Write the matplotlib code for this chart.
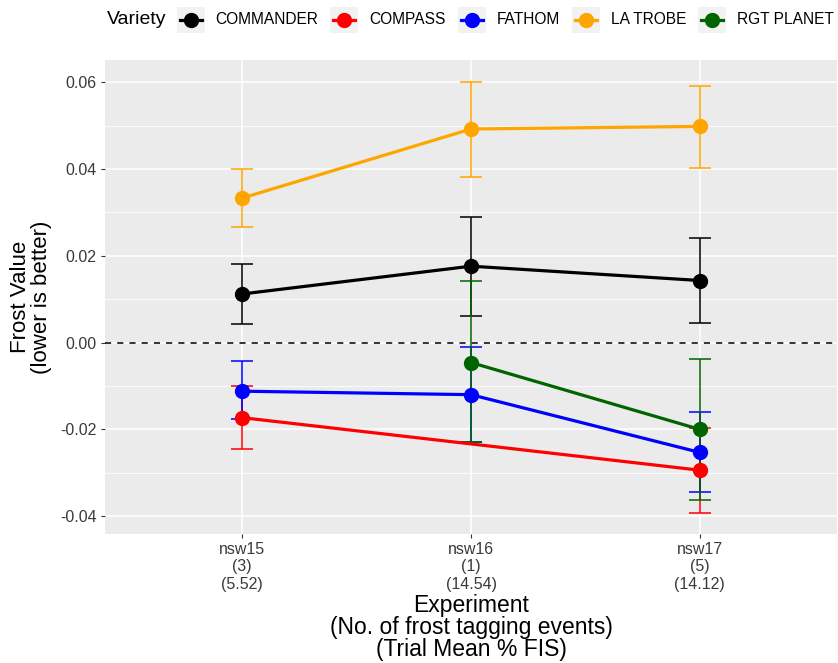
import numpy as np
import matplotlib
matplotlib.use("Agg")
import matplotlib.pyplot as plt
from matplotlib.lines import Line2D
from matplotlib.patches import Rectangle

plt.rcParams['font.family'] = ['Liberation Sans', 'DejaVu Sans']

# data
experiments = ['nsw15\n(3)\n(5.52)', 'nsw16\n(1)\n(14.54)', 'nsw17\n(5)\n(14.12)']
varieties = ['COMMANDER', 'COMPASS', 'FATHOM', 'LA TROBE', 'RGT PLANET']
colors = ['black', 'red', 'blue', 'orange', 'darkgreen']

commander = [0.0112, 0.0176, 0.0143]
commander_lo = [0.0042, 0.0062, 0.0044]
commander_hi = [0.0181, 0.0290, 0.0242]

compass = [-0.0173, np.nan, -0.0294]
compass_lo = [-0.0246, np.nan, -0.0392]
compass_hi = [-0.0100, np.nan, -0.0197]

fathom = [-0.0112, -0.0120, -0.0253]
fathom_lo = [-0.0177, -0.0230, -0.0345]
fathom_hi = [-0.0043, -0.0010, -0.0160]

la_trobe = [0.0333, 0.0492, 0.0498]
la_trobe_lo = [0.0267, 0.0381, 0.0403]
la_trobe_hi = [0.0401, 0.0600, 0.0592]

rgt_planet = [np.nan, -0.0046, -0.0200]
rgt_planet_lo = [np.nan, -0.0230, -0.0363]
rgt_planet_hi = [np.nan, 0.0141, -0.0038]

series = [
    (commander, commander_lo, commander_hi),
    (compass, compass_lo, compass_hi),
    (fathom, fathom_lo, fathom_hi),
    (la_trobe, la_trobe_lo, la_trobe_hi),
    (rgt_planet, rgt_planet_lo, rgt_planet_hi),
]

W, H = 838, 663
fig = plt.figure(figsize=(W / 100, H / 100), dpi=100)
ax = fig.add_axes([105 / W, (H - 534) / H, 732 / W, 474 / H])
ax.set_facecolor('#EBEBEB')
for s in ax.spines.values():
    s.set_visible(False)

x = np.arange(1, len(experiments) + 1)
ax.set_xlim(0.4, 3.6)
ax.set_ylim(-0.0441, 0.0651)

# grid like ggplot
ax.set_yticks([-0.04, -0.02, 0.0, 0.02, 0.04, 0.06])
ax.set_yticks([-0.03, -0.01, 0.01, 0.03, 0.05], minor=True)
ax.set_xticks(x)
ax.grid(True, which='major', color='white', linewidth=1.1, zorder=0)
ax.grid(True, which='minor', axis='y', color='white', linewidth=0.55, zorder=0)
ax.set_axisbelow(True)
ax.tick_params(which='minor', length=0)
ax.tick_params(which='major', length=3, color='#333333', labelcolor='#3A3A3A', labelsize=11.5, pad=3)
ax.set_yticklabels(['-0.04', '-0.02', '0.00', '0.02', '0.04', '0.06'])
ax.set_xticklabels(experiments, linespacing=1.18)

ax.axhline(0, color='black', linestyle=(0, (4, 4)), linewidth=1.1, zorder=1)

# error bars first, then lines, then points
for (vals, lo, hi), c in zip(series, colors):
    vals = np.array(vals); lo = np.array(lo); hi = np.array(hi)
    ok = ~np.isnan(vals)
    ax.errorbar(x[ok], vals[ok], yerr=[vals[ok] - lo[ok], hi[ok] - vals[ok]],
                fmt='none', ecolor=c, elinewidth=1.1, capsize=8, capthick=1.1, zorder=2)
for (vals, lo, hi), c in zip(series, colors):
    vals = np.array(vals)
    ok = ~np.isnan(vals)
    ax.plot(x[ok], vals[ok], color=c, linewidth=2.3, zorder=3, solid_capstyle='butt')
for (vals, lo, hi), c in zip(series, colors):
    vals = np.array(vals)
    ok = ~np.isnan(vals)
    ax.plot(x[ok], vals[ok], 'o', color=c, markersize=10, zorder=4)

ax.set_xlabel('Experiment\n(No. of frost tagging events)\n(Trial Mean % FIS)',
              fontsize=16.5, linespacing=0.93, labelpad=2)
ax.set_ylabel('Frost Value\n(lower is better)', fontsize=16, linespacing=1.0, labelpad=6)

# legend on top, drawn in figure pixels like ggplot's horizontal legend
fig.canvas.draw()
renderer = fig.canvas.get_renderer()
yc = H - 20
px = 107
t = fig.text(px / W, yc / H, 'Variety', fontsize=14, va='center', ha='left')
px += t.get_window_extent(renderer).width + 10
for name, c in zip(varieties, colors):
    fig.patches.append(Rectangle((px / W, (yc - 13) / H), 28 / W, 26 / H,
                                 transform=fig.transFigure, facecolor='#F2F2F2',
                                 edgecolor='none', figure=fig))
    fig.lines.append(Line2D([(px + 3) / W, (px + 25) / W], [yc / H, yc / H],
                            transform=fig.transFigure, color=c, linewidth=2.3, figure=fig))
    fig.lines.append(Line2D([(px + 14) / W], [yc / H], marker='o', markersize=10,
                            transform=fig.transFigure, color=c, figure=fig))
    px += 28 + 11
    t = fig.text(px / W, yc / H, name, fontsize=11.2, va='center', ha='left')
    px += t.get_window_extent(renderer).width + 12

fig.savefig('out.png', dpi=100)
